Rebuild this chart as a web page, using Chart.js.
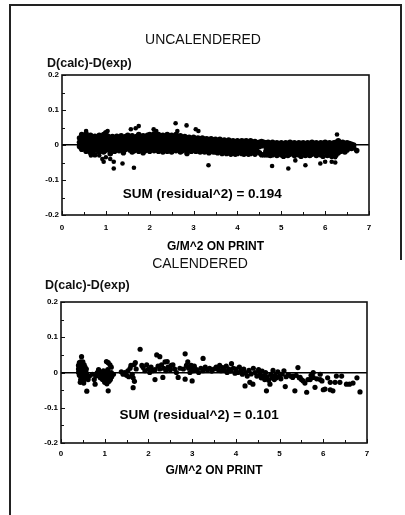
<!DOCTYPE html>
<html><head><meta charset="utf-8">
<script src="https://cdn.jsdelivr.net/npm/chart.js@4"></script>
<style>
html,body{margin:0;padding:0;background:#fff;}
body{width:405px;height:515px;position:relative;overflow:hidden;font-family:"Liberation Sans",Arial,sans-serif;color:#111;}
canvas{position:absolute;left:0;}
.t{position:absolute;white-space:nowrap;line-height:1;}
.ln{position:absolute;background:#222;}
</style></head><body>
<div class="ln" style="left:9px;top:4px;width:2px;height:511px"></div>
<div class="ln" style="left:9px;top:4px;width:393px;height:2px"></div>
<div class="ln" style="left:400px;top:4px;width:2px;height:256px"></div>
<canvas id="c1" width="405" height="260" style="top:0"></canvas>
<canvas id="c2" width="405" height="220" style="top:258px"></canvas>
<div class="t" style="left:203px;top:39px;transform:translate(-50%,-50%);font-size:14px">UNCALENDERED</div>
<div class="t" style="left:47px;top:63px;transform:translateY(-50%);font-size:12.5px;font-weight:bold">D(calc)-D(exp)</div>
<div class="t" style="left:200px;top:263px;transform:translate(-50%,-50%);font-size:14px">CALENDERED</div>
<div class="t" style="left:45px;top:285px;transform:translateY(-50%);font-size:12.5px;font-weight:bold">D(calc)-D(exp)</div>
<script>
// ---------- axis / tick values ----------
const xTickMarks = [0,0.5,1,1.5,2,2.5,3,3.5,4,4.5,5,5.5,6,6.5,7];
const yTickMarks = [-0.2,-0.15,-0.1,-0.05,0,0.05,0.1,0.15,0.2];
const xTitle = 'G/M^2 ON PRINT';
const uncalNote = 'SUM (residual^2) = 0.194';
const calNote = 'SUM (residual^2) = 0.101';

// ---------- UNCALENDERED: dense band (x column, y values in that column) ----------
const uncalBandX = [0.40,0.45,0.50,0.55,0.60,0.65,0.70,0.75,0.80,0.85,0.90,0.95,1.00,1.05,1.10,1.15,1.20,1.25,1.30,1.35,1.40,1.45,1.50,1.55,1.60,1.65,1.70,1.75,1.80,1.85,1.90,1.95,2.00,2.05,2.10,2.15,2.20,2.25,2.30,2.35,2.40,2.45,2.50,2.55,2.60,2.65,2.70,2.75,2.80,2.85,2.90,2.95,3.00,3.05,3.10,3.15,3.20,3.25,3.30,3.35,3.40,3.45,3.50,3.55,3.60,3.65,3.70,3.75,3.80,3.85,3.90,3.95,4.00,4.05,4.10,4.15,4.20,4.25,4.30,4.35,4.40,4.45,4.50,4.55,4.60,4.65,4.70,4.75,4.80,4.85,4.90,4.95,5.00,5.05,5.10,5.15,5.20,5.25,5.30,5.35,5.40,5.45,5.50,5.55,5.60,5.65,5.70,5.75,5.80,5.85,5.90,5.95,6.00,6.05,6.10,6.15,6.20,6.25,6.30,6.35,6.40,6.45,6.50,6.55,6.60,6.65,6.72];
const uncalBandY = [
[0.02,0.008,-0.004],[0.03,0.015,0.0,-0.012],[0.025,0.012,0.002,-0.01],[0.032,0.018,0.005,-0.008,-0.018],
[0.022,0.01,-0.002,-0.014],[0.028,0.014,0.003,-0.01,-0.022],[0.02,0.008,-0.005,-0.018],[0.025,0.012,0.0,-0.012,-0.028],
[0.022,0.01,-0.003,-0.015],[0.028,0.015,0.004,-0.008,-0.02],[0.02,0.008,-0.004,-0.016],[0.03,0.018,0.006,-0.006,-0.02],
[0.035,0.02,0.008,-0.004,-0.015],[0.025,0.012,0.0,-0.012],[0.02,0.008,-0.003,-0.015,-0.025],[0.024,0.012,0.0,-0.01],
[0.018,0.006,-0.006,-0.018],[0.025,0.013,0.002,-0.01],[0.02,0.008,-0.004,-0.016],[0.026,0.014,0.003,-0.009],
[0.02,0.01,-0.002,-0.014,-0.022],[0.024,0.012,0.0,-0.012],[0.028,0.016,0.004,-0.008],[0.022,0.01,-0.002,-0.014],
[0.026,0.014,0.002,-0.01,-0.02],[0.02,0.008,-0.004,-0.016],[0.024,0.012,0.0,-0.012],[0.03,0.018,0.006,-0.006,-0.018],
[0.022,0.01,-0.002,-0.014],[0.026,0.014,0.002,-0.01,-0.022],[0.02,0.008,-0.004,-0.016],[0.028,0.016,0.004,-0.008],
[0.03,0.018,0.006,-0.006,-0.018],[0.024,0.012,0.0,-0.012],[0.032,0.02,0.008,-0.004,-0.016],[0.026,0.014,0.002,-0.01],
[0.03,0.018,0.006,-0.006,-0.018],[0.024,0.012,0.0,-0.012],[0.028,0.016,0.004,-0.008,-0.02],[0.022,0.01,-0.002,-0.014],
[0.03,0.018,0.006,-0.006,-0.018],[0.026,0.014,0.002,-0.01],[0.028,0.016,0.004,-0.008,-0.02],[0.022,0.01,-0.002,-0.014],
[0.03,0.018,0.006,-0.006,-0.016],[0.024,0.012,0.0,-0.012],[0.026,0.014,0.002,-0.01,-0.02],[0.02,0.008,-0.004,-0.016],
[0.024,0.012,0.0,-0.012],[0.02,0.008,-0.004,-0.016,-0.024],[0.022,0.01,-0.002,-0.014],[0.018,0.006,-0.006,-0.018],
[0.022,0.01,-0.002,-0.014],[0.018,0.006,-0.006,-0.018],[0.02,0.008,-0.004,-0.016],[0.016,0.004,-0.008,-0.02],
[0.02,0.008,-0.004,-0.016],[0.016,0.004,-0.008,-0.02],[0.018,0.006,-0.006,-0.018],[0.014,0.002,-0.01,-0.022],
[0.018,0.006,-0.006,-0.018],[0.014,0.002,-0.01,-0.02],[0.016,0.004,-0.008,-0.02],[0.012,0.0,-0.012,-0.022],
[0.016,0.004,-0.008,-0.018],[0.012,0.0,-0.012,-0.024],[0.014,0.002,-0.01,-0.02],[0.01,-0.002,-0.014,-0.024],
[0.014,0.002,-0.01,-0.022],[0.01,-0.002,-0.014,-0.026],[0.012,0.0,-0.012,-0.022],[0.008,-0.004,-0.016,-0.026],
[0.012,0.0,-0.012,-0.024],[0.008,-0.004,-0.016],[0.012,0.0,-0.012,-0.024],[0.01,-0.002,-0.014,-0.026],
[0.012,0.0,-0.012,-0.022],[0.008,-0.004,-0.016,-0.026],[0.012,0.0,-0.012,-0.024],[0.008,-0.004,-0.016],
[0.01,-0.002,-0.014,-0.026],[0.006,-0.006,-0.018],[0.008,-0.004,-0.022],[0.01,-0.002,-0.028],
[0.008,-0.028],[0.006,-0.006,-0.018,-0.028],[0.008,-0.004,-0.016,-0.028],[0.004,-0.008,-0.02,-0.03],
[0.008,-0.004,-0.016,-0.028],[0.004,-0.008,-0.02],[0.006,-0.006,-0.018,-0.03],[0.002,-0.01,-0.022],
[0.006,-0.006,-0.018,-0.028],[0.002,-0.01,-0.022,-0.032],[0.006,-0.006,-0.018],[0.004,-0.008,-0.02,-0.03],
[0.008,-0.004,-0.016,-0.026],[0.004,-0.008,-0.02],[0.006,-0.006,-0.018,-0.03],[0.002,-0.01,-0.022],
[0.006,-0.006,-0.018,-0.028],[0.004,-0.008,-0.02,-0.032],[0.006,-0.006,-0.018],[0.002,-0.01,-0.022,-0.03],
[0.006,-0.006,-0.018],[0.004,-0.008,-0.02,-0.03],[0.008,-0.004,-0.016,-0.026],[0.004,-0.008,-0.02],
[0.006,-0.006,-0.018,-0.03],[0.002,-0.01,-0.022],[0.006,-0.006,-0.018,-0.028],[0.004,-0.008,-0.02,-0.032],
[0.008,-0.004,-0.016],[0.004,-0.008,-0.02,-0.03],[0.006,-0.006,-0.018],[0.002,-0.01,-0.022,-0.032],
[0.006,-0.006,-0.018],[0.008,-0.004,-0.016,-0.028],[0.012,0.0,-0.012,-0.022],[0.006,-0.006,-0.018],
[0.008,-0.004,-0.016],[0.004,-0.008,-0.02],[0.006,-0.006,-0.014],[0.004,-0.008],
[0.002,-0.01],[0.0,-0.008],[-0.016]
];
// UNCALENDERED: scattered outliers
const uncalOutX = [0.55,1.04,1.57,1.68,1.75,2.09,2.15,2.59,2.63,2.84,3.05,3.11,6.27,0.66,0.85,0.92,0.95,1.00,1.10,1.18,1.18,1.38,1.64,3.34,4.79,5.16,5.32,5.55,5.66,5.89,6.00,6.15,6.23,6.23];
const uncalOutY = [0.040,0.040,0.045,0.048,0.054,0.045,0.040,0.062,0.040,0.056,0.045,0.040,0.030,-0.030,-0.030,-0.040,-0.048,-0.035,-0.040,-0.048,-0.067,-0.053,-0.065,-0.058,-0.060,-0.067,-0.044,-0.058,-0.030,-0.053,-0.048,-0.048,-0.035,-0.050];

// ---------- CALENDERED ----------
const calX = [0.40,0.40,0.40,0.42,0.42,0.42,0.42,0.45,0.45,0.45,0.45,0.45,0.45,0.48,0.48,0.48,0.48,0.48,0.50,0.50,0.50,0.50,0.50,0.50,0.53,0.53,0.53,0.53,0.53,0.55,0.55,0.55,0.58,0.58,0.58,0.47,0.59,0.44,0.52,0.62,0.65,
0.72,0.76,0.78,0.80,0.83,
0.86,0.88,0.90,0.92,0.94,0.95,0.97,0.98,1.00,1.00,1.02,1.03,1.04,1.05,1.07,1.08,1.09,1.10,1.12,1.13,1.15,1.16,1.04,1.08,1.12,1.15,1.08,1.20,
1.38,1.42,1.46,1.50,1.53,1.55,1.58,1.60,1.63,1.65,1.67,1.70,1.65,1.68,1.72,
1.81,1.85,1.88,1.92,1.96,2.00,2.03,2.06,2.10,2.15,2.15,2.19,2.22,2.26,2.26,2.30,2.33,2.35,2.38,2.40,2.43,2.45,2.50,2.52,2.56,2.60,2.64,2.68,2.72,
2.80,2.84,2.84,2.87,2.90,2.92,2.95,2.98,3.00,3.00,3.02,3.05,3.10,3.15,3.20,3.25,3.25,3.30,3.35,3.40,3.45,3.50,
3.55,3.60,3.63,3.66,3.70,3.74,3.78,3.80,3.84,3.88,3.90,3.94,3.98,4.00,4.05,4.08,4.12,4.15,4.18,4.21,4.22,4.26,4.30,4.32,4.35,4.39,4.40,4.44,4.48,
4.52,4.55,4.58,4.60,4.63,4.66,4.68,4.70,4.72,4.75,4.78,4.80,4.83,4.85,4.88,4.90,4.93,4.96,5.00,5.03,5.06,5.10,5.13,5.15,5.20,
5.25,5.30,5.31,5.35,5.38,5.42,5.45,5.47,5.50,5.54,5.58,5.62,5.65,5.70,5.72,5.77,5.77,5.81,5.85,5.93,5.93,5.97,6.00,6.04,6.10,6.16,6.16,6.22,6.27,6.30,6.38,6.42,6.53,6.60,6.68,6.77,6.84];
const calY = [0.02,0.01,0.0,0.028,0.015,0.005,-0.008,0.03,0.02,0.01,0.0,-0.01,-0.02,0.025,0.015,0.005,-0.005,-0.015,0.03,0.02,0.01,0.0,-0.012,-0.025,0.022,0.012,0.002,-0.01,-0.02,0.015,0.005,-0.005,0.01,-0.002,-0.015,0.045,-0.053,-0.028,-0.03,-0.02,-0.01,
-0.005,-0.02,-0.033,-0.01,0.0,
0.008,-0.005,-0.015,0.0,-0.01,-0.02,0.005,-0.008,-0.018,-0.028,0.002,-0.012,-0.022,-0.032,0.008,-0.005,-0.015,-0.025,-0.01,-0.02,0.0,-0.012,0.031,0.028,0.022,0.015,-0.052,-0.005,
0.002,-0.005,0.0,-0.008,0.005,-0.012,0.012,0.02,-0.005,-0.015,0.022,0.028,-0.043,-0.025,0.01,
0.066,0.02,0.014,0.005,0.022,0.01,0.0,0.015,0.005,0.008,-0.02,0.05,0.018,0.045,0.01,0.022,-0.014,0.012,0.03,0.005,0.031,0.015,0.008,0.02,0.022,0.01,0.0,-0.014,0.012,
0.01,0.053,-0.019,0.02,0.03,0.012,0.0,0.02,-0.024,0.01,0.005,0.018,0.008,0.0,0.012,0.04,0.005,0.015,0.008,0.012,0.004,0.01,
0.015,0.008,0.02,0.005,0.014,0.006,0.018,0.0,0.01,0.004,0.025,0.012,-0.002,0.01,0.0,0.015,0.005,-0.005,0.01,-0.038,0.0,-0.01,0.006,-0.028,-0.004,-0.033,0.012,0.0,-0.01,
0.008,-0.005,-0.015,0.004,-0.01,-0.02,0.0,-0.052,-0.012,-0.022,-0.033,-0.005,-0.015,0.006,-0.02,-0.008,-0.015,0.002,-0.01,-0.018,-0.005,0.005,-0.04,-0.012,-0.006,
-0.01,-0.014,-0.01,-0.052,-0.008,0.014,-0.015,-0.014,-0.02,-0.024,-0.03,-0.056,-0.02,-0.02,-0.008,-0.014,0.0,-0.042,-0.018,-0.02,-0.005,-0.024,-0.049,-0.047,-0.015,-0.028,-0.049,-0.052,-0.028,-0.01,-0.028,-0.01,-0.033,-0.033,-0.03,-0.015,-0.055];

// ---------- build ----------
const FONT = '"Liberation Sans", Arial, sans-serif';
function bandPoints(xs, ys){ const out=[]; xs.forEach((x,i)=>ys[i].forEach(y=>out.push({x,y}))); return out; }
function pairPoints(xs, ys){ return xs.map((x,i)=>({x, y: ys[i]})); }

const framePlugin = {
  id: 'frame',
  afterDatasetsDraw(chart, args, opts) {
    const {ctx, chartArea: a, scales: {x, y}} = chart;
    ctx.save();
    ctx.strokeStyle = '#111';
    ctx.lineWidth = 1;
    ctx.beginPath();
    xTickMarks.forEach(v => { const p = Math.round(x.getPixelForValue(v)) + 0.5; const L = Number.isInteger(v) ? 4 : 3; ctx.moveTo(p, a.bottom); ctx.lineTo(p, a.bottom - L); });
    yTickMarks.forEach(v => { const p = Math.round(y.getPixelForValue(v)) + 0.5; const L = Math.abs(v*10 - Math.round(v*10)) < 1e-6 ? 4 : 3; ctx.moveTo(a.left, p); ctx.lineTo(a.left + L, p); });
    ctx.stroke();
    ctx.lineWidth = 1.6;
    ctx.strokeRect(a.left, a.top, a.right - a.left, a.bottom - a.top);
    ctx.fillStyle = '#000';
    ctx.font = 'bold 13.5px ' + FONT;
    ctx.textAlign = 'center';
    ctx.textBaseline = 'middle';
    ctx.fillText(opts.text, x.getPixelForValue(opts.x), y.getPixelForValue(opts.y));
    ctx.restore();
  }
};

function makeChart(id, datasets, cfg) {
  return new Chart(document.getElementById(id), {
    type: 'scatter',
    data: { datasets },
    plugins: [framePlugin],
    options: {
      responsive: false, animation: false, events: [],
      layout: { padding: { left: 0, top: cfg.padTop, right: cfg.padRight, bottom: 0 } },
      plugins: { legend: { display: false }, tooltip: { enabled: false },
        frame: { text: cfg.note, x: cfg.noteX, y: cfg.noteY } },
      scales: {
        x: { type: 'linear', min: 0, max: 7,
          afterFit: s => { s.height = cfg.xHeight; },
          ticks: { stepSize: 1, color: '#000', padding: cfg.xTickPad, font: { family: FONT, size: 8, weight: 'bold' } },
          grid: { display: false, drawTicks: false, tickLength: 0 },
          border: { display: false },
          title: { display: true, text: xTitle, color: '#000', padding: { top: 0, bottom: cfg.titlePad }, font: { family: FONT, size: 12, weight: 'bold' } } },
        y: { type: 'linear', min: -0.2, max: 0.2,
          afterFit: s => { s.width = cfg.yWidth; },
          ticks: { stepSize: 0.1, color: '#000', padding: 3, font: { family: FONT, size: 8, weight: 'bold' },
            callback: v => Math.abs(v) < 1e-9 ? '0' : v.toFixed(1) },
          grid: { drawTicks: false, tickLength: 0, lineWidth: 1.6,
            color: c => (c.tick && Math.abs(c.tick.value) < 1e-9) ? '#000' : 'rgba(0,0,0,0)' },
          border: { display: false } }
      }
    }
  });
}

makeChart('c1', [
  { data: bandPoints(uncalBandX, uncalBandY), pointRadius: 2.8, pointBackgroundColor: '#000', pointBorderWidth: 0 },
  { data: pairPoints(uncalOutX, uncalOutY), pointRadius: 2.3, pointBackgroundColor: '#000', pointBorderWidth: 0 }
], { padTop: 75, padRight: 36, yWidth: 62, xHeight: 45, xTickPad: 8, titlePad: 6, note: uncalNote, noteX: 3.2, noteY: -0.14 });

makeChart('c2', [
  { data: pairPoints(calX, calY), pointRadius: 2.6, pointBackgroundColor: '#000', pointBorderWidth: 0 }
], { padTop: 44, padRight: 38, yWidth: 61, xHeight: 35, xTickPad: 6, titlePad: 0, note: calNote, noteX: 3.16, noteY: -0.12 });
</script>
</body></html>
